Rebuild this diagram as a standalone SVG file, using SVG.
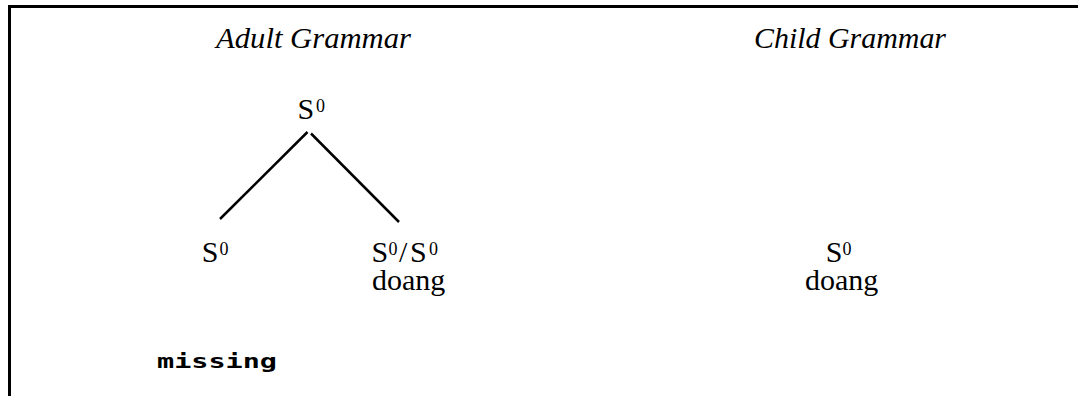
<svg xmlns="http://www.w3.org/2000/svg" width="1078" height="396" viewBox="0 0 1078 396">
<style>
.t{font-family:"Liberation Serif","Times New Roman",serif;fill:#000}
.title{font-size:30px;font-style:italic}
.lab{font-size:30px}
.sup{font-size:18px}
.edge{stroke:#000;stroke-width:2.5;fill:none}
.frame{stroke:#000;stroke-width:3;fill:none}
</style>
<rect width="1078" height="396" fill="#fff"/>
<path class="frame" d="M9.5,396 V6.5 H1078"/>
<g id="title-adult"><text class="t title" x="216" y="48" textLength="195" lengthAdjust="spacingAndGlyphs">Adult Grammar</text></g>
<g id="title-child"><text class="t title" x="754" y="48" textLength="192" lengthAdjust="spacingAndGlyphs">Child Grammar</text></g>
<g id="connectors">
<line class="edge" x1="307.5" y1="132" x2="220" y2="219"/>
<line class="edge" x1="311" y1="133.5" x2="399" y2="222"/>
</g>
<g id="node-root"><text class="t lab"><tspan x="297.5" y="118.5">S</tspan><tspan class="sup" x="316" y="111.5">0</tspan></text></g>
<g id="node-left"><text class="t lab"><tspan x="201.7" y="261.7">S</tspan><tspan class="sup" x="219.5" y="254.5">0</tspan></text></g>
<g id="node-right"><text class="t lab"><tspan x="371.5" y="261.7">S</tspan><tspan class="sup" x="388.5" y="254.5">0</tspan><tspan x="399" y="261.7">/</tspan><tspan x="410" y="261.7">S</tspan><tspan class="sup" x="429" y="254.5">0</tspan><tspan x="372" y="290">doang</tspan></text></g>
<g id="node-child"><text class="t lab"><tspan x="825.7" y="261.7">S</tspan><tspan class="sup" x="842.5" y="254.5">0</tspan><tspan x="805" y="290">doang</tspan></text></g>
<g id="label-missing"><text x="157" y="368" font-family="'DejaVu Sans Mono',monospace" font-weight="bold" font-size="19" textLength="120" lengthAdjust="spacingAndGlyphs">missing</text></g>
</svg>
